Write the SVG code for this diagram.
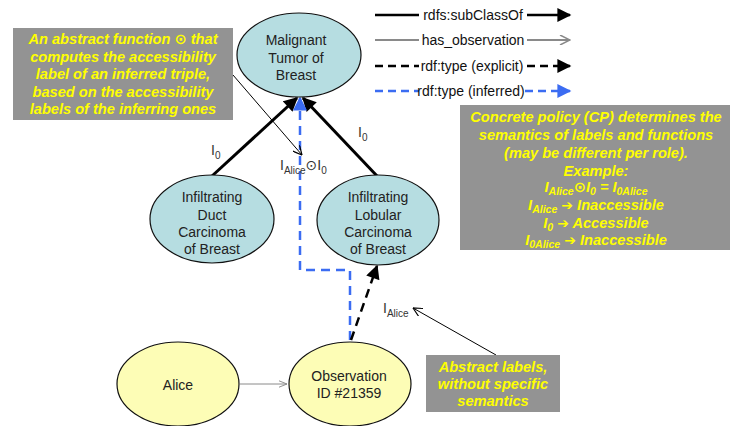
<svg xmlns="http://www.w3.org/2000/svg" width="735" height="426" viewBox="0 0 735 426">
<defs>
<style>
.t{font-family:"Liberation Sans","DejaVu Sans",sans-serif;}
.node{font-family:"Liberation Sans","DejaVu Sans",sans-serif;font-size:14px;fill:#222;text-anchor:middle;}
.lbl{font-family:"Liberation Sans","DejaVu Sans",sans-serif;font-size:14px;fill:#333;}
.box{fill:#939393;}
.bt{font-family:"Liberation Sans","DejaVu Sans",sans-serif;font-size:14.6px;font-weight:bold;font-style:italic;fill:#ffff00;text-anchor:middle;}
.cy{fill:#b6dde1;stroke:#111;stroke-width:1.2;}
.yl{fill:#fdfdb6;stroke:#111;stroke-width:1.2;}
.leg{font-family:"Liberation Sans","DejaVu Sans",sans-serif;font-size:14px;fill:#111;text-anchor:middle;}
.ar{font-family:"DejaVu Sans",sans-serif;font-style:normal;font-size:14px;}
</style>
<marker id="mb" viewBox="0 0 10 10" refX="9" refY="5" markerWidth="15" markerHeight="14" markerUnits="userSpaceOnUse" orient="auto"><path d="M0,0 L10,5 L0,10 z" fill="#000"/></marker>
<marker id="mbl" viewBox="0 0 10 10" refX="9" refY="5" markerWidth="15" markerHeight="14" markerUnits="userSpaceOnUse" orient="auto"><path d="M0,0 L10,5 L0,10 z" fill="#3b6cf2"/></marker>
<marker id="mg" viewBox="0 0 10 10" refX="10" refY="5" markerWidth="12" markerHeight="10" markerUnits="userSpaceOnUse" orient="auto"><path d="M0,0 L10,5 L0,10" fill="none" stroke="#8a8a8a" stroke-width="1.5"/></marker>
<marker id="mgs" viewBox="0 0 10 10" refX="10" refY="5" markerWidth="8" markerHeight="8" markerUnits="userSpaceOnUse" orient="auto"><path d="M0,1 L10,5 L0,9" fill="none" stroke="#8a8a8a" stroke-width="1.2"/></marker>
<marker id="mt" viewBox="0 0 10 10" refX="10" refY="5" markerWidth="10" markerHeight="9" markerUnits="userSpaceOnUse" orient="auto"><path d="M0,0 L10,5 L0,10" fill="none" stroke="#000" stroke-width="1.3"/></marker>
</defs>
<rect width="735" height="426" fill="#fff"/>

<g id="legend">
<line x1="375" y1="15" x2="419" y2="15" stroke="#000" stroke-width="2.5"/>
<text class="leg" x="473" y="20">rdfs:subClassOf</text>
<line x1="527" y1="15" x2="570" y2="15" stroke="#000" stroke-width="2.5" marker-end="url(#mb)"/>
<line x1="375" y1="40" x2="419" y2="40" stroke="#8a8a8a" stroke-width="2"/>
<text class="leg" x="473" y="45">has_observation</text>
<line x1="527" y1="40" x2="570" y2="40" stroke="#8a8a8a" stroke-width="2" marker-end="url(#mg)"/>
<line x1="375" y1="66" x2="419" y2="66" stroke="#000" stroke-width="2.5" stroke-dasharray="8,5"/>
<text class="leg" x="472" y="71">rdf:type (explicit)</text>
<line x1="527" y1="66" x2="570" y2="66" stroke="#000" stroke-width="2.5" stroke-dasharray="8,5" marker-end="url(#mb)"/>
<line x1="375" y1="91" x2="419" y2="91" stroke="#3b6cf2" stroke-width="2.5" stroke-dasharray="8,5"/>
<text class="leg" x="471" y="96">rdf:type (inferred)</text>
<line x1="525" y1="91" x2="570" y2="91" stroke="#3b6cf2" stroke-width="2.5" stroke-dasharray="8,5" marker-end="url(#mbl)"/>
</g>

<g id="connectors">
<line x1="212" y1="176" x2="297" y2="98" stroke="#000" stroke-width="3" marker-end="url(#mb)"/>
<line x1="378" y1="177" x2="303" y2="98" stroke="#000" stroke-width="3" marker-end="url(#mb)"/>
<polyline points="350,340 350,270 300,270 300,98" fill="none" stroke="#3b6cf2" stroke-width="2.5" stroke-dasharray="9,6" marker-end="url(#mbl)"/>
<line x1="351" y1="340" x2="377" y2="266" stroke="#000" stroke-width="2.5" stroke-dasharray="9,6" marker-end="url(#mb)"/>
<line x1="240" y1="384" x2="287" y2="384" stroke="#8a8a8a" stroke-width="1" marker-end="url(#mgs)"/>
<line x1="233" y1="75" x2="302" y2="155" stroke="#000" stroke-width="1" marker-end="url(#mt)"/>
<line x1="496" y1="355" x2="413" y2="308" stroke="#000" stroke-width="1" marker-end="url(#mt)"/>
<text class="lbl" x="211" y="155">I<tspan font-size="10" dy="4">0</tspan></text>
<text class="lbl" x="358" y="137">I<tspan font-size="10" dy="4">0</tspan></text>
<text class="lbl" x="280" y="170">I<tspan font-size="10" dy="4">Alice</tspan><tspan dy="-4" font-family="DejaVu Sans">⊙</tspan>I<tspan font-size="10" dy="4">0</tspan></text>
<text class="lbl" x="383" y="313">I<tspan font-size="10" dy="4">Alice</tspan></text>
</g>

<g id="malignant">
<ellipse class="cy" cx="299" cy="55" rx="62" ry="42"/>
<text class="node" x="296" y="45">Malignant</text>
<text class="node" x="296" y="63">Tumor of</text>
<text class="node" x="296" y="80">Breast</text>
</g>

<g id="duct">
<ellipse class="cy" cx="212" cy="219" rx="62" ry="44"/>
<text class="node" x="212" y="202">Infiltrating</text>
<text class="node" x="212" y="220">Duct</text>
<text class="node" x="212" y="237">Carcinoma</text>
<text class="node" x="212" y="254">of Breast</text>
</g>

<g id="lobular">
<ellipse class="cy" cx="378" cy="220" rx="61" ry="45"/>
<text class="node" x="378" y="202">Infiltrating</text>
<text class="node" x="378" y="220">Lobular</text>
<text class="node" x="378" y="237">Carcinoma</text>
<text class="node" x="378" y="254">of Breast</text>
</g>

<g id="alice">
<ellipse class="yl" cx="178" cy="384" rx="61" ry="42"/>
<text class="node" x="178" y="390">Alice</text>
</g>

<g id="observation">
<ellipse class="yl" cx="350" cy="384" rx="61" ry="42"/>
<text class="node" x="349" y="381">Observation</text>
<text class="node" x="349" y="398">ID #21359</text>
</g>

<g id="note-function">
<rect class="box" x="13" y="28" width="220" height="92"/>
<text class="bt" x="123" y="44">An abstract function <tspan font-family="DejaVu Sans">⊙</tspan> that</text>
<text class="bt" x="123" y="61.5">computes the accessibility</text>
<text class="bt" x="123" y="79">label of an inferred triple,</text>
<text class="bt" x="123" y="96.5">based on the accessibility</text>
<text class="bt" x="123" y="114">labels of the inferring ones</text>
</g>

<g id="note-policy">
<rect class="box" x="460" y="105" width="270" height="145"/>
<text class="bt" x="596" y="122">Concrete policy (CP) determines the</text>
<text class="bt" x="596" y="139.5">semantics of labels and functions</text>
<text class="bt" x="596" y="157.5">(may be different per role).</text>
<text class="bt" x="596" y="175.5">Example:</text>
<text class="bt" x="596" y="192">I<tspan font-size="10.5" dy="3">Alice</tspan><tspan dy="-3" font-family="DejaVu Sans">⊙</tspan>I<tspan font-size="10.5" dy="3">0</tspan><tspan dy="-3"> = I</tspan><tspan font-size="10.5" dy="3">0Alice</tspan></text>
<text class="bt" x="596" y="210">I<tspan font-size="10.5" dy="3">Alice</tspan><tspan dy="-3"> <tspan class="ar">➔</tspan> Inaccessible</tspan></text>
<text class="bt" x="596" y="227.5">I<tspan font-size="10.5" dy="3">0</tspan><tspan dy="-3"> <tspan class="ar">➔</tspan> Accessible</tspan></text>
<text class="bt" x="596" y="245">I<tspan font-size="10.5" dy="3">0Alice</tspan><tspan dy="-3"> <tspan class="ar">➔</tspan> Inaccessible</tspan></text>
</g>

<g id="note-labels">
<rect class="box" x="426" y="355" width="134" height="57"/>
<text class="bt" x="493" y="372">Abstract labels,</text>
<text class="bt" x="493" y="389">without specific</text>
<text class="bt" x="493" y="406">semantics</text>
</g>
</svg>
